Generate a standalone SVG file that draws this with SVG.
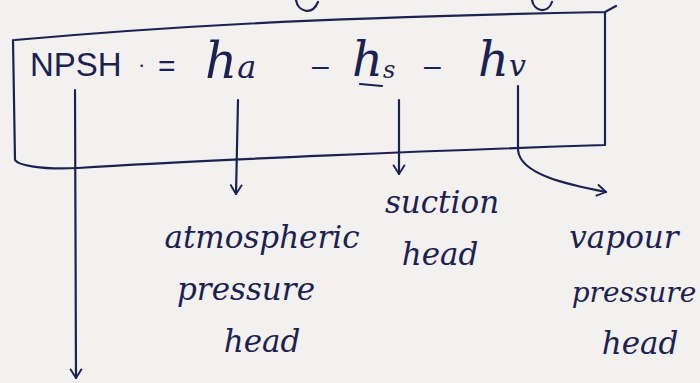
<svg xmlns="http://www.w3.org/2000/svg" width="700" height="383" viewBox="0 0 700 383">
<style>
.ink{fill:none;stroke:#1c2250;stroke-width:2.2;stroke-linecap:round;stroke-linejoin:round}
.t{fill:#1c2250;font-family:"DejaVu Serif","Liberation Serif",serif;font-style:italic}
.lb{font-size:31px}
.up{fill:#1c2250;font-family:"Liberation Sans",sans-serif;font-style:normal;font-size:28px}
</style>
<defs>
<marker id="ah" viewBox="0 0 12 12" refX="11" refY="6" markerWidth="14" markerHeight="14" markerUnits="userSpaceOnUse" orient="auto">
<path d="M3,1 L11,6 L3,11" fill="none" stroke="#1c2250" stroke-width="1.6"/>
</marker>
</defs>
<rect width="700" height="383" fill="#f3f1ef"/>
<g id="fragments" class="ink">
<path d="M296,0 C298,12 312,16 318,2"/>
<path d="M532,0 C534,12 548,14 552,2"/>
</g>
<g id="box">
<path class="ink" d="M15,40 C150,28 300,18 605,12 L616,6 M605,12 L605,145 C450,150 200,160 78,168 C40,170 18,165 15,160 L13,40"/>
</g>
<g id="equation">
<text class="up" x="30" y="76" style="font-size:33px">NPSH</text>
<text class="up" x="138" y="72" style="font-size:22px">·</text>
<text class="up" x="158" y="76" style="font-size:30px">=</text>
<text class="t" x="205" y="78" style="font-size:50px">h<tspan style="font-size:32px">a</tspan></text>
<text class="up" x="312" y="76" style="font-size:30px">–</text>
<text class="t" x="352" y="76" style="font-size:48px">h<tspan style="font-size:24px" dy="2">s</tspan></text>
<text class="up" x="424" y="76" style="font-size:30px">–</text>
<text class="t" x="478" y="76" style="font-size:48px">h<tspan style="font-size:30px">v</tspan></text>
<path class="ink" d="M360,84 L382,86"/>
</g>
<g id="connectors" class="ink">
<path d="M75,90 L76,378" marker-end="url(#ah)"/>
<path d="M238,100 L236,194" marker-end="url(#ah)"/>
<path d="M399,100 L399,174" marker-end="url(#ah)"/>
<path d="M518,86 L518,150 C520,175 570,185 606,192" marker-end="url(#ah)"/>
</g>
<g id="atmospheric">
<text class="t lb" x="262" y="248" text-anchor="middle">atmospheric</text>
<text class="t lb" x="246" y="300" text-anchor="middle">pressure</text>
<text class="t lb" x="262" y="352" text-anchor="middle">head</text>
</g>
<g id="suction">
<text class="t lb" x="442" y="213" text-anchor="middle">suction</text>
<text class="t lb" x="440" y="265" text-anchor="middle">head</text>
</g>
<g id="vapour">
<text class="t lb" x="624" y="248" text-anchor="middle">vapour</text>
<text class="t" x="634" y="302" text-anchor="middle" style="font-size:28px">pressure</text>
<text class="t lb" x="640" y="354" text-anchor="middle">head</text>
</g>
</svg>
